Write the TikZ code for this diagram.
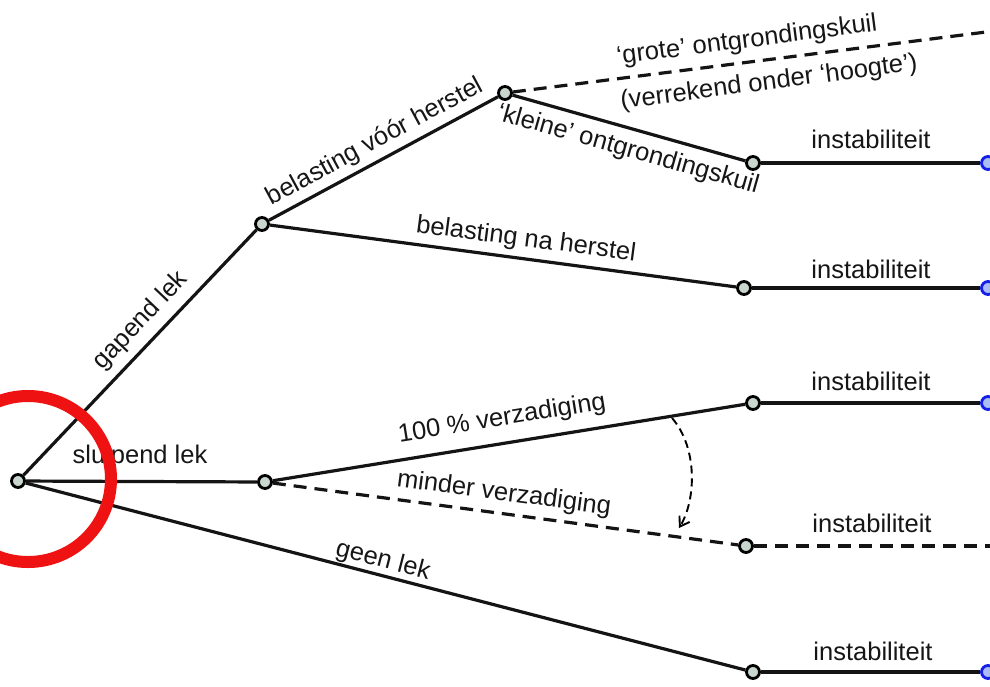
\documentclass[tikz,border=0pt]{standalone}
\usepackage{fontspec}
\setmainfont{Liberation Sans}
\usetikzlibrary{arrows.meta}
\definecolor{knotfill}{RGB}{200,214,206}
\definecolor{leafblue}{RGB}{20,30,230}
\definecolor{leaffill}{RGB}{170,190,245}
\definecolor{textgray}{RGB}{22,22,22}
\definecolor{ringred}{RGB}{238,18,18}
\begin{document}
\begin{tikzpicture}[x=1pt,y=-1pt,
  knot/.style={circle,draw=black,line width=2.8pt,fill=knotfill,minimum size=13pt,inner sep=0pt},
  leaf/.style={circle,draw=leafblue,line width=2.8pt,fill=leaffill,minimum size=13pt,inner sep=0pt},
  branch/.style={line width=3.2pt,draw=black!92},
  dashbranch/.style={branch,dash pattern=on 13pt off 8pt},
  lab/.style={font=\fontsize{25.5}{30}\selectfont,text=textgray,inner sep=0pt}]
\useasboundingbox (0,0) rectangle (990,686);
\fill[white] (0,0) rectangle (990,686);
% nodes
\node[knot] (R) at (18,481) {};
\node[knot] (A) at (262,224) {};
\node[knot] (B) at (505,93) {};
\node[knot] (C) at (753,163) {};
\node[knot] (D) at (744,288) {};
\node[knot] (E) at (265,482) {};
\node[knot] (F) at (753,403) {};
\node[knot] (G) at (746,546) {};
\node[knot] (H) at (753,672) {};
\node[leaf] (LC) at (988,163) {};
\node[leaf] (LD) at (988,288) {};
\node[leaf] (LF) at (988,403) {};
\node[leaf] (LH) at (988,672) {};
\coordinate (TB) at (994,31);
\coordinate (TG) at (994,546);
\coordinate (arrS) at (672,418);
\coordinate (arrE) at (679,528);
% connectors
\draw[branch] (R) -- (A);
\draw[branch] (A) -- (B);
\draw[dashbranch] (B) -- (TB);
\draw[branch] (B) -- (C);
\draw[branch] (C) -- (LC);
\draw[branch] (A) -- (D);
\draw[branch] (D) -- (LD);
\draw[branch] (R) -- (E);
\draw[branch] (E) -- (F);
\draw[branch] (F) -- (LF);
\draw[dashbranch] (E) -- (G);
\draw[dashbranch] (G) -- (TG);
\draw[branch] (R) -- (H);
\draw[branch] (H) -- (LH);
\draw[line width=1.9pt,dash pattern=on 8pt off 5pt,-{Straight Barb[length=9pt,width=12pt]}]
  (arrS) .. controls (698,448) and (696,500) .. (arrE);
% labels
\node[lab,rotate=46.5] (lgap) at (141,321) {gapend lek};
\node[lab,rotate=28.4] (lvoor) at (375,142) {belasting vóór herstel};
\node[lab,rotate=7.4] (lgrote) at (747,41) {‘grote’ ontgrondingskuil};
\node[lab,rotate=7.4] (lverr) at (769,83) {(verrekend onder ‘hoogte’)};
\node[lab,rotate=-15.8] (lklein) at (628,150) {‘kleine’ ontgrondingskuil};
\node[lab,rotate=-7.4] (lna) at (526,240) {belasting na herstel};
\node[lab] (lslu) at (140,457) {sluipend lek};
\node[lab,rotate=9.2] (lsat) at (502,419) {100 \% verzadiging};
\node[lab,rotate=-7.6] (lmin) at (504,494) {minder verzadiging};
\node[lab,rotate=-14.6] (lgeen) at (383,561) {geen lek};
\node[lab] (i1) at (871,139) {instabiliteit};
\node[lab] (i2) at (871,269) {instabiliteit};
\node[lab] (i3) at (871,381) {instabiliteit};
\node[lab] (i4) at (872,523) {instabiliteit};
\node[lab] (i5) at (873,651) {instabiliteit};
% red ring
\node[circle,draw=ringred,line width=12pt,minimum size=166pt,inner sep=0pt,outer sep=0pt] (ring) at (28,479) {};
\end{tikzpicture}
\end{document}
